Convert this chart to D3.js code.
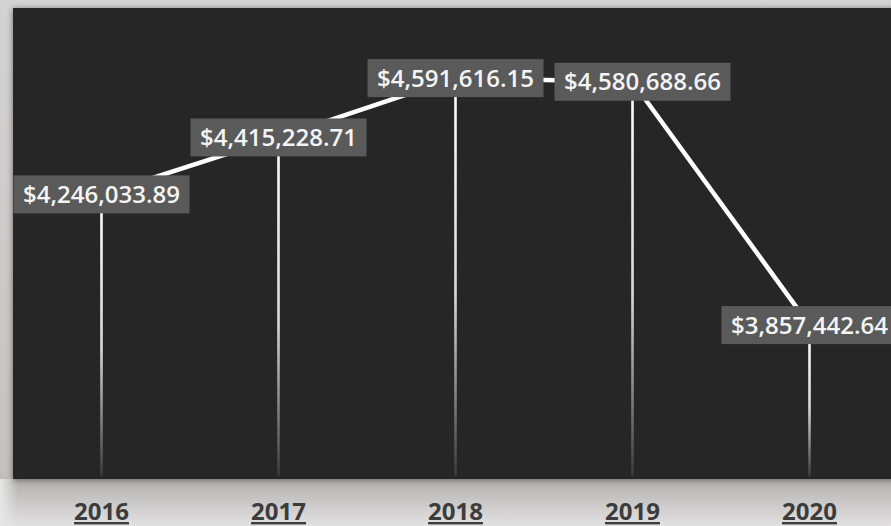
<!DOCTYPE html>
<html>
<head>
<meta charset="utf-8">
<script src="https://cdn.jsdelivr.net/npm/d3@7"></script>
<style>
  html, body { margin: 0; padding: 0; background: #d6d5d5; }
  svg { display: block; }
</style>
</head>
<body>
<svg id="chart" width="891" height="526"></svg>
<script>
// Annual totals
const years = ["2016", "2017", "2018", "2019", "2020"];
const totals = [4246033.89, 4415228.71, 4591616.15, 4580688.66, 3857442.64];
// Horizontal nudge for labels that would otherwise collide
const labelShift = [0, 0, 0, 10, 0];
const yDomain = [3400000, 4800000];

const W = 891, H = 526;
const plot = { left: 13, top: 8, right: 898, bottom: 479 };

const svg = d3.select("#chart");
const defs = svg.append("defs");

// Outer area: soft light-gray fill that darkens just under the plot
const bg = defs.append("linearGradient").attr("id", "bgGrad")
  .attr("x1", 0).attr("y1", 0).attr("x2", 0).attr("y2", 1);
bg.append("stop").attr("offset", "0%").attr("stop-color", "#d4d3d3");
bg.append("stop").attr("offset", "90%").attr("stop-color", "#c4c2c1");
bg.append("stop").attr("offset", "92%").attr("stop-color", "#b8b5b4");
bg.append("stop").attr("offset", "100%").attr("stop-color", "#e2e1e1");

const leftFade = defs.append("linearGradient").attr("id", "leftFade")
  .attr("x1", 0).attr("y1", 0).attr("x2", 1).attr("y2", 0);
leftFade.append("stop").attr("offset", "0%").attr("stop-color", "#e6e6e6").attr("stop-opacity", 1);
leftFade.append("stop").attr("offset", "100%").attr("stop-color", "#e6e6e6").attr("stop-opacity", 0);

const shadow = defs.append("filter").attr("id", "plotShadow")
  .attr("x", "-5%").attr("y", "-5%").attr("width", "110%").attr("height", "110%");
shadow.append("feGaussianBlur").attr("in", "SourceAlpha").attr("stdDeviation", 3).attr("result", "b");
shadow.append("feOffset").attr("in", "b").attr("dx", 0).attr("dy", 1).attr("result", "o");
shadow.append("feComponentTransfer").attr("in", "o").attr("result", "s")
  .append("feFuncA").attr("type", "linear").attr("slope", 0.5);
const merge = shadow.append("feMerge");
merge.append("feMergeNode").attr("in", "s");
merge.append("feMergeNode").attr("in", "SourceGraphic");

// Drop-line fade: bright at the point, dimming toward the axis
const drop = defs.append("linearGradient").attr("id", "dropGrad")
  .attr("x1", 0).attr("y1", 0).attr("x2", 0).attr("y2", 1);
drop.append("stop").attr("offset", "0%").attr("stop-color", "#ffffff");
drop.append("stop").attr("offset", "55%").attr("stop-color", "#d8d8d8");
drop.append("stop").attr("offset", "100%").attr("stop-color", "#3a3a3a");

svg.append("rect").attr("width", W).attr("height", H).attr("fill", "url(#bgGrad)");
svg.append("rect").attr("x", 0).attr("y", plot.bottom).attr("width", 18).attr("height", H - plot.bottom)
  .attr("fill", "url(#leftFade)");

// Plot area
svg.append("rect")
  .attr("x", plot.left).attr("y", plot.top)
  .attr("width", plot.right - plot.left).attr("height", plot.bottom - plot.top)
  .attr("fill", "#262626")
  .attr("filter", "url(#plotShadow)");

const x = d3.scaleBand().domain(years).range([plot.left, plot.right]).padding(0);
const y = d3.scaleLinear().domain(yDomain).range([plot.bottom, plot.top]);
const cx = d => x(d) + x.bandwidth() / 2;

const data = years.map((yr, i) => ({ year: yr, value: totals[i], shift: labelShift[i] }));

// Drop lines from each point to the category axis
svg.append("g").selectAll("rect").data(data).join("rect")
  .attr("x", d => cx(d.year) - 1.3)
  .attr("y", d => y(d.value))
  .attr("width", 2.6)
  .attr("height", d => plot.bottom - 3 - y(d.value))
  .attr("fill", "url(#dropGrad)");

// Trend line
const line = d3.line().x(d => cx(d.year)).y(d => y(d.value));
svg.append("path").datum(data)
  .attr("d", line)
  .attr("fill", "none")
  .attr("stroke", "#ffffff")
  .attr("stroke-width", 4.5)
  .attr("stroke-linejoin", "round");

// Value labels in gray boxes
const fmt = v => "$" + d3.format(",.2f")(v);
const labels = svg.append("g").selectAll("g").data(data).join("g")
  .attr("transform", d => `translate(${cx(d.year) + d.shift},${y(d.value)})`);
const boxW = 176, boxH = 38;
labels.append("rect")
  .attr("x", -boxW / 2).attr("y", -boxH / 2)
  .attr("width", boxW).attr("height", boxH)
  .attr("fill", "#5a5a5a");
labels.append("text")
  .attr("text-anchor", "middle")
  .attr("dy", "0.36em")
  .attr("fill", "#f4f4f4")
  .style("font-family", "'Open Sans', sans-serif")
  .style("font-weight", 600)
  .style("font-size", "24px")
  .text(d => fmt(d.value));

// Category axis
const xAxis = svg.append("g")
  .attr("transform", `translate(0,${plot.bottom})`)
  .call(d3.axisBottom(x).tickSize(0).tickPadding(0));
xAxis.select(".domain").remove();
xAxis.selectAll("text")
  .attr("y", 41)
  .attr("dy", 0)
  .attr("fill", "#3c3c3c")
  .style("font-family", "'Open Sans', sans-serif")
  .style("font-weight", 700)
  .style("font-size", "24px")
  .style("text-decoration", "underline");
</script>
</body>
</html>
